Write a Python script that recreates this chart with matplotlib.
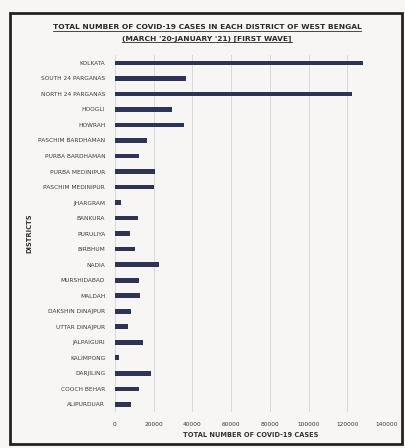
import matplotlib
matplotlib.use("Agg")
import matplotlib.pyplot as plt
from matplotlib.patches import Rectangle
from matplotlib.lines import Line2D
from matplotlib import font_manager

# District names, top to bottom as in the chart
districts = ["KOLKATA", "SOUTH 24 PARGANAS", "NORTH 24 PARGANAS", "HOOGLI", "HOWRAH",
             "PASCHIM BARDHAMAN", "PURBA BARDHAMAN", "PURBA MEDINIPUR", "PASCHIM MEDINIPUR",
             "JHARGRAM", "BANKURA", "PURULIYA", "BIRBHUM", "NADIA", "MURSHIDABAD", "MALDAH",
             "DAKSHIN DINAJPUR", "UTTAR DINAJPUR", "JALPAIGURI", "KALIMPONG", "DARJILING",
             "COOCH BEHAR", "ALIPURDUAR"]

# Total cases
cases = [128300, 36900, 122600, 29600, 35800,
         16600, 12500, 20800, 20300,
         3100, 12000, 7800, 10400, 22900, 12500, 13000,
         8300, 6800, 14500, 2000, 18700,
         12500, 8300]

xticks = [0, 20000, 40000, 60000, 80000, 100000, 120000, 140000]

# Narrow font if available, otherwise DejaVu
names = set(f.name for f in font_manager.fontManager.ttflist)
font = "Liberation Sans Narrow" if "Liberation Sans Narrow" in names else "DejaVu Sans"
plt.rcParams["font.family"] = font

fig = plt.figure(figsize=(4.06, 4.48), dpi=100, facecolor="#f7f6f5")
ax = fig.add_axes([0.283, 0.080, 0.668, 0.797])
ax.set_facecolor("#f7f6f5")

ypos = list(range(len(districts)))
ax.barh(ypos, cases, height=0.3, color="#2e3458", zorder=3)
ax.set_ylim(len(districts) - 0.5, -0.5)
ax.set_xlim(0, 140000)
ax.set_yticks(ypos)
ax.set_yticklabels(districts, fontsize=4.2, color="#3a3a3a")
ax.set_xticks(xticks)
ax.set_xticklabels([str(t) for t in xticks], fontsize=4.2, color="#3a3a3a")
ax.tick_params(length=0, pad=7)
ax.xaxis.grid(True, color="#d4d4d4", linewidth=0.6, zorder=0)
for s in ax.spines.values():
    s.set_visible(False)

ax.set_xlabel("TOTAL NUMBER OF COVID-19 CASES", fontsize=4.8, fontweight="bold",
              color="#333333", labelpad=4)
ax.set_ylabel("DISTRICTS", fontsize=4.8, fontweight="bold", color="#333333", labelpad=4)

# Outer border
fig.patches.append(Rectangle((0.025, 0.008), 0.966, 0.963, transform=fig.transFigure,
                             fill=False, edgecolor="#222222", linewidth=2))

# Underlined two-line title
t1 = fig.text(0.51, 0.935, "TOTAL NUMBER OF COVID-19 CASES IN EACH DISTRICT OF WEST BENGAL",
              ha="center", va="baseline", fontsize=5.4, fontweight="bold", color="#2a2a2a")
t2 = fig.text(0.51, 0.911, "(MARCH '20-JANUARY '21) [FIRST WAVE]",
              ha="center", va="baseline", fontsize=5.4, fontweight="bold", color="#2a2a2a")
fig.canvas.draw()
inv = fig.transFigure.inverted()
for t in (t1, t2):
    bb = t.get_window_extent().transformed(inv)
    y0 = t.get_position()[1] - 0.004
    fig.lines.append(Line2D([bb.x0, bb.x1], [y0, y0], transform=fig.transFigure,
                            color="#2a2a2a", linewidth=0.6))

fig.savefig("out.png", dpi=100, facecolor=fig.get_facecolor())
